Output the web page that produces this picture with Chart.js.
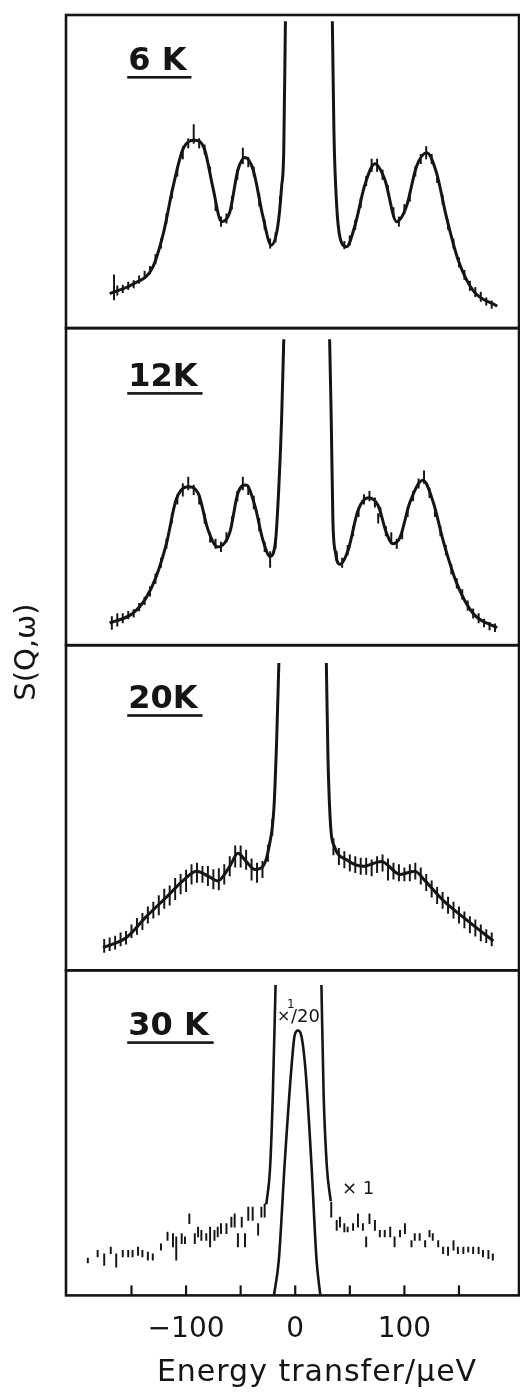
<!DOCTYPE html>
<html>
<head>
<meta charset="utf-8">
<script src="https://cdn.jsdelivr.net/npm/chart.js@4.4.1/dist/chart.umd.min.js"></script>
<style>
  html, body { margin: 0; padding: 0; background: #fff; }
  canvas { display: block; }
</style>
</head>
<body>
<canvas id="spectra" width="520" height="1396"></canvas>
<script>
// S(Q,w) in arbitrary units (0-100 per panel) against energy transfer in ueV
const temps = ['6 K', '12K', '20K', '30 K'];
const xTicks = [-150, -100, -50, 0, 50, 100, 150];
const xTickLabels = ['', '\u2212100', '', '0', '', '100', ''];

// 6 K
const fitE6 = [-170, -149, -130.5, -121, -112, -103, -92, -83, -75.5, -67.5, -60, -52.5, -46, -38.5, -29.5, -22, -16, -12.5, -10.5, -9,
  12, 34, 35.5, 38, 41, 47, 54.5, 64, 73, 82, 93, 102, 111, 120.5, 129.5, 138.5, 149.5, 163, 185];
const fitS6 = [11, 14, 19.5, 30, 45, 57, 60, 57, 45, 34, 37, 50.5, 54.5, 50.5, 35.5, 26.5, 32.5, 45, 57, 98,
  null, 98, 62, 39, 29, 26, 32.5, 46, 52.5, 47.5, 34, 39, 51.5, 56, 49.5, 35.5, 21.5, 12, 7];
const barE6 = [-166, -163, -158, -153, -148, -143, -138, -133, -128, -123, -118, -113, -108, -103, -98, -93, -88, -83, -78, -73,
  -68, -63, -58, -53, -48, -43, -38, -33, -28, -23, -18, -14,
  40, 45, 50, 55, 60, 65, 70, 75, 80, 85, 90, 95, 100, 105, 110, 115, 120, 125, 130, 135, 140, 145, 150, 155, 160, 165, 170, 175, 180];
const barS6 = [13, 12, 12.5, 13.5, 14, 15.5, 17, 18.5, 22, 27, 35, 43, 50, 56, 59, 62, 59, 57, 50, 39,
  34, 35, 40, 49, 55, 53, 50, 41, 33, 27, 29, 40,
  31, 26.5, 28, 33, 40, 47, 52, 52, 49, 44, 37, 34, 38, 42, 50, 54, 56, 54, 48, 41, 33, 27, 21, 17, 13.5, 11.5, 10, 8.5, 7.5];
const barD6 = [4, 1.5, 1.2, 1.2, 1.2, 1.2, 1.2, 1.2, 1.5, 1.5, 1.5, 1.5, 1.5, 2, 1.5, 3, 1.5, 1.5, 1.5, 1.5,
  1.5, 1.5, 2, 1.5, 2.5, 1.5, 1.5, 2, 1.5, 1.5, 1.5, 2,
  1.5, 1.2, 1.5, 1.5, 1.5, 1.5, 2, 2, 1.5, 1.5, 1.5, 1.5, 1.5, 1.5, 1.5, 1.5, 2, 1.5, 1.5, 1.5, 1.5, 1.5, 1.5, 1.5, 1.5, 1.5, 1.5, 1.2, 1.2];

// 12 K
const fitE12 = [-170, -149, -136.5, -127.5, -118, -109, -98.5, -89, -80, -71, -60, -52.5, -45, -37, -29.5, -23, -18, -15, -12.5, -10.5,
  10, 31.5, 33, 34.5, 37, 41, 48.5, 57.5, 67, 76, 83.5, 89.5, 96, 105, 117, 126.5, 135.5, 148, 163, 185];
const fitS12 = [7, 10, 15, 21.5, 32, 46, 50, 48, 36.5, 31, 35.5, 48, 50.5, 44, 33, 28, 33, 50, 71, 96.5,
  null, 96.5, 71, 39.5, 29, 25.5, 30, 42.5, 46.5, 44, 35.5, 32, 34, 45, 52, 45, 33, 19.5, 10, 5.5];
const barE12 = [-168, -163, -158, -153, -148, -143, -138, -133, -128, -123, -118, -113, -108, -103, -98, -93, -88, -83, -78, -73,
  -68, -63, -58, -53, -48, -43, -38, -33, -28, -23, -18,
  38, 43, 48, 53, 58, 63, 68, 73, 76, 78, 83, 88, 93, 98, 103, 108, 113, 118, 123, 128,
  133, 138, 143, 148, 153, 158, 163, 168, 173, 178, 183];
const barS12 = [7, 8, 8.5, 9.5, 10, 12, 14, 17, 21, 26, 32, 40, 46, 49, 51, 49, 46, 40, 34, 32,
  31, 34, 39, 47, 51, 49, 45, 38, 31, 27, 32,
  28, 26, 30, 36, 42, 46, 47, 45, 40, 42, 36, 34, 32, 35, 42, 47, 51, 53, 48, 42,
  36, 30, 24, 19.5, 16, 12.5, 10, 8.5, 7, 6, 5.5];
const barD12 = [2, 2, 1.5, 1.2, 1.2, 1.2, 1.2, 1.5, 1.5, 1.5, 1.5, 1.5, 1.5, 2, 2, 1.5, 1.5, 1.5, 1.5, 1.5,
  1.5, 1.5, 1.5, 1.5, 2, 1.5, 2, 2, 1.5, 2.5, 1.5,
  1.5, 1.5, 1.5, 1.5, 1.5, 1.5, 1.5, 1.5, 1.5, 1.5, 1.5, 1.5, 1.5, 1.5, 1.5, 1.5, 1.5, 2, 1.5, 1.5,
  1.5, 1.5, 1.5, 1.5, 1.5, 1.5, 1.5, 1.5, 1.2, 1.2, 1.2];

// 20 K
const fitE20 = [-176, -155, -136.5, -118, -103, -90.5, -80, -71, -60, -52.5, -45, -37, -29.5, -24, -19.5, -17, -15,
  7, 28.5, 30, 32.5, 36, 47, 62, 79, 96, 109.5, 119, 135.5, 157, 181.5];
const fitS20 = [7, 10, 16.5, 22.5, 27.5, 30.5, 29, 27.5, 32, 36, 33.5, 31, 32, 38, 50, 71, 94.5,
  null, 94.5, 65.5, 44, 38, 34, 32, 33.5, 29.5, 30.5, 27.5, 21.5, 15.5, 9];
const barE20 = [-175, -170, -165, -160, -155, -150, -145, -140, -135, -130, -125, -120, -115, -110, -105, -100, -95, -90, -85, -80,
  -75, -70, -65, -60, -55, -50, -45, -40, -35, -30, -25, -21,
  35, 40, 45, 50, 55, 60, 65, 70, 75, 80, 85, 90, 95, 100, 105, 110, 115, 120, 125, 130,
  135, 140, 145, 150, 155, 160, 165, 170, 175, 180];
const barS20 = [7.5, 8, 8.5, 9.5, 10, 12, 13.5, 15, 17, 18.5, 20, 22, 23, 25, 26.5, 27.5, 29.5, 30, 29.5, 29,
  28, 28, 29.5, 32, 35, 35, 34, 31, 30, 31, 36, 44,
  38, 35, 34, 33, 32.5, 32, 32, 31.5, 32.5, 33, 31, 30.5, 30, 29.5, 30, 30.5, 29, 27, 25, 23,
  21.5, 20, 18.5, 17, 15.5, 14, 13, 11.5, 10.5, 9.5];
const barD20 = [2, 2, 2, 2, 2, 2, 2.5, 2.5, 2.5, 2.5, 3, 3, 3, 3.3, 3, 3.3, 3, 3, 2.5, 3,
  3, 3.3, 3, 3, 3.3, 3.3, 3, 3.3, 3, 2.5, 2.5, 2.5,
  2.5, 2.5, 2.5, 2.5, 2.5, 2.5, 2.5, 2.5, 2.5, 2.5, 3.3, 2.5, 2.5, 2, 2.5, 2.5, 2.5, 2.5, 2.5, 2.5,
  2.5, 2.5, 2.5, 2.5, 2.5, 2.5, 2.5, 2.5, 2, 2];

// 30 K: quasielastic peak drawn at x1/20, wings and points at x1
const peakE30 = [-19.5, -15, -9.5, -3.5, -0.5, 2.5, 5.5, 9.5, 15, 19.5, 23];
const peakS30 = [0, 11, 41.5, 70, 80, 81.5, 80, 69, 39.5, 11, 0];
const wingE30 = [-26.5, -23, -20.5, -18, 3, 24, 26, 29, 32.5];
const wingS30 = [28, 39.5, 62, 95.5, null, 95.5, 62, 39.5, 29];
const barE30 = [-190, -181, -175, -169, -164, -158, -153, -149, -144, -140, -135, -130.5, -123, -117, -112, -109, -104, -101, -97, -92,
  -89, -86, -81.5, -78, -74, -71, -68, -63, -58.5, -55.5, -52.5, -49, -46, -43, -39, -34, -31, -28,
  33, 38, 41, 45, 48, 53, 57.5, 62, 65, 68, 73, 77.5, 82, 87, 91, 96, 100.5, 106.5, 109.5, 114,
  119, 123, 126, 131, 135.5, 140, 145, 149, 154, 158.5, 163, 168, 172, 177, 181];
const barLo30 = [10, 11.8, 9.2, 12.8, 8.7, 11.8, 11.8, 11.8, 12.3, 11.8, 10.8, 10.8, 13.9, 16.9, 14.9, 10.8, 15.9, 15.9, 22.1, 15.9,
  18, 16.9, 16.9, 14.9, 16.9, 18, 19, 19, 21, 21, 14.9, 21, 14.9, 23.1, 23.1, 18.5, 24.1, 24.1,
  24.1, 20, 21, 19.5, 19.5, 20, 21, 20, 14.9, 22.1, 20, 18, 18, 18, 14.9, 18, 19, 14.9, 16.9, 16.9,
  14.9, 18, 16.9, 14.9, 12.8, 12.3, 13.9, 12.8, 12.8, 13.3, 12.8, 12.8, 11.8, 11.3, 10.8];
const barHi30 = [11.5, 13.9, 12.8, 14.9, 12.8, 13.9, 13.9, 13.9, 14.9, 13.9, 13.3, 12.8, 15.9, 19.5, 19, 18, 19, 18, 25.1, 19,
  21, 20, 19, 21, 20, 21, 22.1, 22.1, 24.1, 25.1, 19, 24.1, 19, 27.2, 27.2, 22.1, 27.2, 28.2,
  28.7, 23.1, 24.1, 22.1, 21, 22.1, 25.1, 22.1, 18, 25.1, 23.1, 20, 20, 21, 18, 20, 22.1, 16.9, 19, 19,
  16.9, 20, 19, 16.9, 14.9, 14.9, 16.9, 14.9, 14.9, 14.9, 14.9, 14.9, 13.9, 13.9, 12.8];

const ink = '#151515';
const font = "'DejaVu Sans', sans-serif";

const xy = (xs, ys) => xs.map((x, i) => ({x: x, y: ys[i]}));
const spread = (xs, ys, ds) => xs.map((x, i) => ({x: x, y: [ys[i] - ds[i], ys[i] + ds[i]]}));
const range = (xs, lo, hi) => xs.map((x, i) => ({x: x, y: [lo[i], hi[i]]}));

function fitLine(data, axis, width) {
    return {
        type: 'line', data: data, yAxisID: axis,
        borderColor: ink, borderWidth: width, pointRadius: 0,
        cubicInterpolationMode: 'monotone', spanGaps: false, fill: false
    };
}
function errBars(data, axis) {
    return {type: 'bar', data: data, yAxisID: axis, backgroundColor: ink, barThickness: 1.3, grouped: false};
}
function panelAxis(weight) {
    return {
        type: 'linear', position: 'left', stack: 'panels', stackWeight: weight,
        min: 0, max: 100,
        ticks: {display: false},
        grid: {display: false, drawTicks: false},
        border: {display: false}
    };
}

const panelIds = ['y6', 'y12', 'y20', 'y30'];

// frames, inside ticks, panel labels and the free text
const decor = {
    id: 'decor',
    afterDraw(chart) {
        const {ctx, chartArea: a, scales} = chart;
        const xs = scales.x;
        const drop = [55, 58, 63, 65];
        ctx.save();
        ctx.strokeStyle = ink;
        ctx.fillStyle = ink;
        ctx.lineWidth = 2.6;
        panelIds.forEach((id, k) => {
            const s = scales[id];
            ctx.strokeRect(a.left, s.top, a.right - a.left, s.bottom - s.top);
            ctx.font = 'bold 32px ' + font;
            ctx.textAlign = 'left';
            ctx.textBaseline = 'alphabetic';
            const lx = xs.getPixelForValue(-153);
            const ly = s.top + drop[k];
            ctx.fillText(temps[k], lx, ly);
            const w = ctx.measureText(temps[k]).width;
            ctx.fillRect(lx - 1, ly + 6, w + 6, 2.6);
        });

        const bottom = scales.y30.bottom;
        ctx.lineWidth = 2.2;
        xTicks.forEach(v => {
            const px = xs.getPixelForValue(v);
            ctx.beginPath();
            ctx.moveTo(px, bottom);
            ctx.lineTo(px, bottom - 10);
            ctx.stroke();
        });

        // scale factors in the 30 K panel
        const top4 = scales.y30.top;
        ctx.font = '16px ' + font;
        ctx.fillText('\u00d7', 277, top4 + 51);
        ctx.font = '12px ' + font;
        ctx.fillText('1', 287, top4 + 38);
        ctx.font = '18px ' + font;
        ctx.fillText('/20', 291, top4 + 52);
        ctx.fillText('\u00d7 1', 342, top4 + 224);

        ctx.font = '30px ' + font;
        ctx.textAlign = 'center';
        ctx.letterSpacing = '1px';
        ctx.fillText('Energy transfer/\u00b5eV', 317, 1381);
        ctx.letterSpacing = '0px';

        ctx.translate(27, 652);
        ctx.rotate(-Math.PI / 2);
        ctx.font = '29px ' + font;
        ctx.textBaseline = 'middle';
        ctx.fillText('S(Q,\u03c9)', 0, 0);
        ctx.restore();
    }
};

new Chart(document.getElementById('spectra'), {
    type: 'line',
    data: {
        datasets: [
            errBars(spread(barE6, barS6, barD6), 'y6'),
            fitLine(xy(fitE6, fitS6), 'y6', 3),
            errBars(spread(barE12, barS12, barD12), 'y12'),
            fitLine(xy(fitE12, fitS12), 'y12', 3),
            errBars(spread(barE20, barS20, barD20), 'y20'),
            fitLine(xy(fitE20, fitS20), 'y20', 3),
            errBars(range(barE30, barLo30, barHi30), 'y30'),
            fitLine(xy(wingE30, wingS30), 'y30', 2.6),
            fitLine(xy(peakE30, peakS30), 'y30', 2.6)
        ]
    },
    options: {
        responsive: false,
        animation: false,
        events: [],
        layout: {padding: {left: 66, right: 1, top: 15, bottom: 31}},
        plugins: {legend: {display: false}, tooltip: {enabled: false}},
        scales: {
            x: {
                type: 'linear', min: -210, max: 205, offset: false,
                grid: {display: false, drawTicks: false, offset: false},
                border: {display: false},
                afterBuildTicks: scale => { scale.ticks = xTicks.map(v => ({value: v})); },
                ticks: {
                    autoSkip: false, maxRotation: 0, padding: 18, color: ink,
                    font: {family: font, size: 28},
                    callback: (v, i) => xTickLabels[i]
                }
            },
            // the last stacked axis ends up on top, so list them bottom first
            y30: panelAxis(325),
            y20: panelAxis(325),
            y12: panelAxis(317),
            y6: panelAxis(313)
        }
    },
    plugins: [decor]
});
</script>
</body>
</html>
